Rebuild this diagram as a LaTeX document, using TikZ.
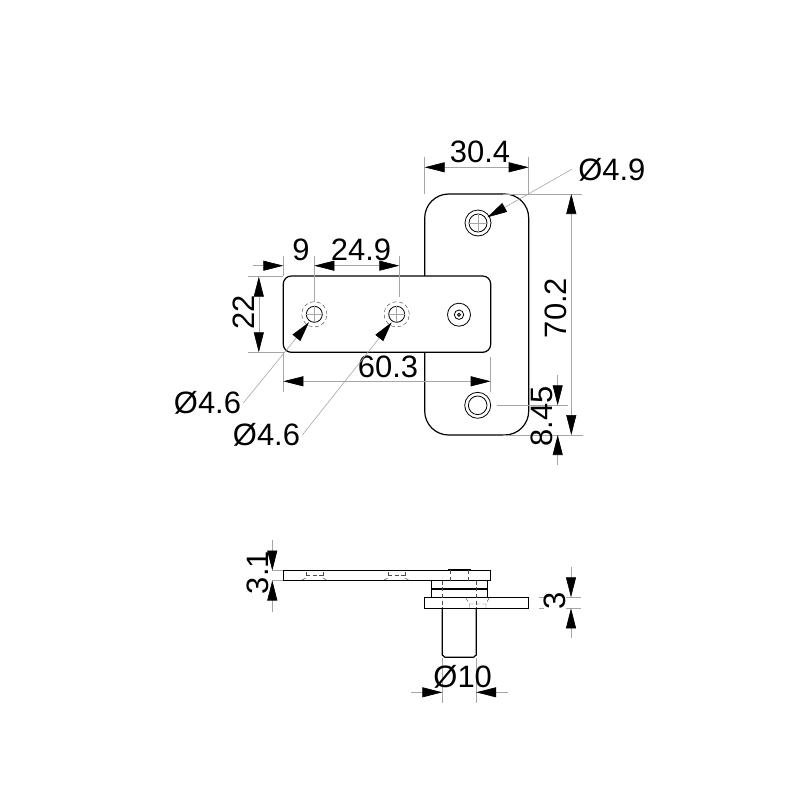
\documentclass[tikz,border=0pt]{standalone}
\usepackage{fontspec}
\setmainfont{Liberation Sans}
\usetikzlibrary{arrows.meta}
\tikzset{
  part/.style={draw=black,line width=0.9pt},
  thin part/.style={draw=black,line width=0.6pt},
  hidden/.style={draw=black!70,line width=0.35pt,dash pattern=on 3pt off 2pt},
  dim/.style={draw=black!35,line width=0.45pt},
  tipA/.style={-{Triangle[length=15pt,width=7.5pt,color=black]}},
  tipB/.style={{Triangle[length=15pt,width=7.5pt,color=black]}-{Triangle[length=15pt,width=7.5pt,color=black]}},
  lab/.style={inner sep=0pt,font=\fontsize{23.2}{24}\selectfont}
}
\begin{document}
\begin{tikzpicture}[x=0.75pt,y=-0.75pt]
\useasboundingbox (0,0) rectangle (800,800);
% front view
\draw[part,rounded corners=18pt] (424.7,276) -- (424.7,194) -- (528.7,194) -- (528.7,435) -- (424.7,435) -- (424.7,352.3);
\draw[part,rounded corners=6pt] (424.7,276) -- (283.3,276) -- (283.3,352.3) -- (490.7,352.3) -- (490.7,276) -- cycle;
% holes
\node[circle,thin part,minimum size=19.5pt,inner sep=0pt] (hole1) at (478,223) {};
\draw[thin part] (478,223) circle (9);
\draw[dim] (478,214) -- (478,232) (469,223) -- (487,223);
\node[circle,thin part,minimum size=19.5pt,inner sep=0pt] (hole2) at (477.7,405.3) {};
\draw[thin part] (477.7,405.3) circle (9.3);
\node[circle,hidden,minimum size=19pt,inner sep=0pt] (hole3) at (314.3,314.3) {};
\draw[thin part] (314.3,314.3) circle (8);
\draw[dim] (306.3,314.3) -- (322.3,314.3) (314.3,306.3) -- (314.3,322.3);
\node[circle,hidden,minimum size=19pt,inner sep=0pt] (hole4) at (396.7,314.3) {};
\draw[thin part] (396.7,314.3) circle (8);
\draw[dim] (388.7,314.3) -- (404.7,314.3) (396.7,306.3) -- (396.7,322.3);
\node[circle,thin part,minimum size=17.25pt,inner sep=0pt] (hole5) at (459,314.7) {};
\draw[thin part] (459,314.7) circle (4.7);
\draw[thin part] (459,314.7) circle (1.5);
% dimensions front view
\draw[dim] (424.7,194) -- (424.7,157) (528.7,194) -- (528.7,157);
\draw[dim,tipB] (424.7,167.3) -- (528.7,167.3);
\node[lab] (w1) at (480,152) {30.4};
\node[lab,anchor=west] (d1) at (578,170) {Ø4.9};
\coordinate (c1) at (487.3,217.3);
\draw[dim,tipA] (571.7,169.3) -- (c1);
\draw[dim] (503,194) -- (581.7,194) (503,435) -- (582.7,435);
\draw[dim,tipB] (571.3,194) -- (571.3,435);
\node[lab,rotate=90] (h1) at (556,308) {70.2};
\draw[dim] (496.7,405.3) -- (567.7,405.3);
\draw[dim,tipA] (557.7,375) -- (557.7,405.3);
\draw[dim,tipA] (557.7,465) -- (557.7,435);
\node[lab,rotate=90] (h2) at (541.5,416.5) {8.45};
\draw[dim] (283.3,352.3) -- (283.3,391.7) (490.7,356.7) -- (490.7,391.7);
\draw[dim,tipB] (283.3,381.3) -- (490.7,381.3);
\node[lab] (w2) at (388,367) {60.3};
\draw[dim] (248,276.7) -- (283,276.7) (248,352.3) -- (283,352.3);
\draw[dim,tipB] (258.8,276.7) -- (258.8,352.3);
\node[lab,rotate=90] (h3) at (244,312) {22};
\draw[dim] (283.3,255.7) -- (283.3,276) (314.3,255.7) -- (314.3,302) (399.3,255.7) -- (399.3,296.7);
\draw[dim,tipA] (252.7,265.7) -- (283.3,265.7);
\draw[dim,tipB] (314.3,265.7) -- (399.3,265.7);
\node[lab] (w3) at (301,250) {9};
\node[lab] (w4) at (361,250) {24.9};
\node[lab] (d2) at (207.5,403) {Ø4.6};
\coordinate (c2) at (309,322.3);
\draw[dim,tipA] (d2.east) ++(2,0) -- (c2);
\node[lab] (d3) at (266.5,435) {Ø4.6};
\coordinate (c3) at (391.7,322.3);
\draw[dim,tipA] (d3.east) ++(2,0) -- (c3);
% side view
\draw[part] (283.3,570.3) rectangle (490.7,580.5);
\draw[part] (431.7,580.5) rectangle (487.3,597.3);
\draw[part,line width=1.4pt] (431.7,588.7) -- (487.3,588.7);
\draw[part] (424.7,597.3) rectangle (528.7,608.3);
\draw[part] (442.3,608.3) -- (442.3,655) -- (445,657.3) -- (473.5,657.3) -- (476.2,655) -- (476.2,608.3);
\draw[hidden] (442.3,580.5) -- (442.3,608.3) (476.2,580.5) -- (476.2,608.3);
\draw[hidden] (450,570) -- (450,580.5) (468.5,570) -- (468.5,580.5);
\draw[part,line width=0.6pt] (448,569.5) -- (470.7,569.5);
\draw[hidden] (466,598) -- (469.5,604) -- (469.5,608) (489,598) -- (486,604) -- (486,608) (469.5,604) -- (486,604);
\draw[hidden] (306,572) -- (306,578) (323,572) -- (323,578) (306,575) -- (323,575);
\draw[hidden] (388,572) -- (388,578) (405,572) -- (405,578) (388,575) -- (405,575);
\draw[hidden] (302,580) -- (306,578) (323,578) -- (326.5,580);
\draw[hidden] (384,580) -- (388,578) (405,578) -- (408.5,580);
% dimensions side view
\draw[dim] (272.3,570) -- (283,570) (272.3,580.5) -- (283,580.5);
\draw[dim,tipA] (272.3,540) -- (272.3,570.5);
\draw[dim,tipA] (272.3,611.7) -- (272.3,580.5);
\node[lab,rotate=90] (h4) at (257.5,572.5) {3.1};
\draw[dim] (539,597.3) -- (581,597.3) (539,608.3) -- (581,608.3);
\draw[dim,tipA] (571,567) -- (571,597.3);
\draw[dim,tipA] (571,638) -- (571,608.3);
\node[lab,rotate=90,fill=white] (h5) at (555,600.7) {3};
\draw[dim] (442.3,658) -- (442.3,702.7) (476.2,658) -- (476.2,702.7);
\draw[dim,tipA] (411,692.3) -- (442.3,692.3);
\draw[dim,tipA] (507.7,692.3) -- (476.2,692.3);
\node[lab] (d4) at (462.7,676.7) {Ø10};
\end{tikzpicture}
\end{document}
